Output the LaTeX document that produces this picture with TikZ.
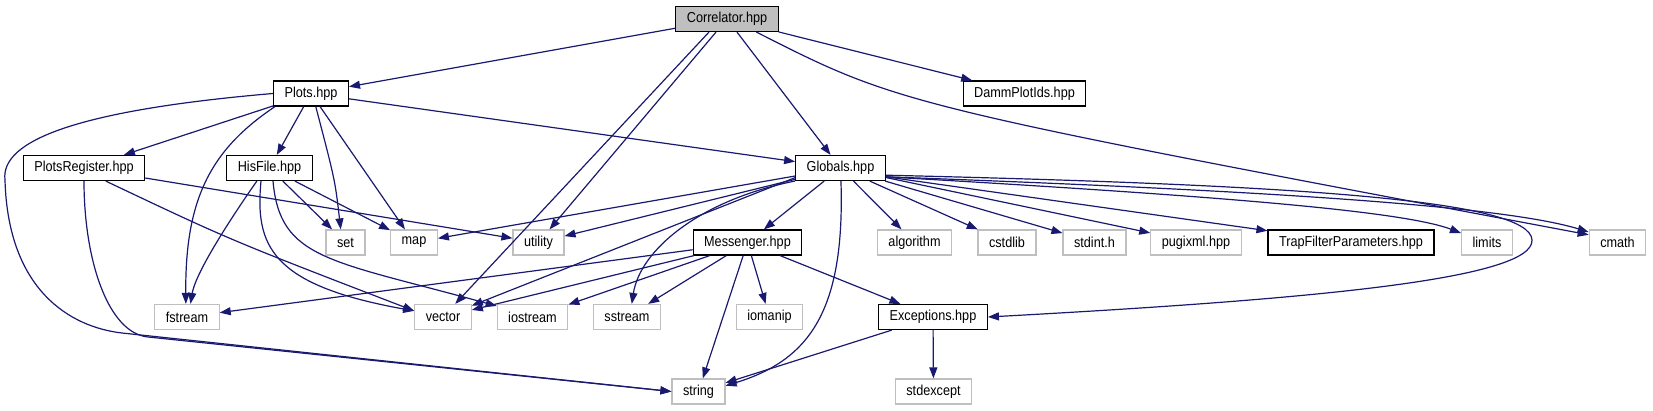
\documentclass[tikz,border=0pt]{standalone}
\usepackage{fontspec}
\setmainfont{Liberation Sans}[FakeStretch=0.88]
\usetikzlibrary{arrows.meta}

\definecolor{edgeblue}{RGB}{25,25,112}
\definecolor{sysgray}{RGB}{191,191,191}

\begin{document}
\begin{tikzpicture}[
    x=0.5pt, y=-0.5pt,
    every node/.style={
        draw,
        fill=white,
        line width=0.6pt,
        font=\fontsize{7.2pt}{8pt}\selectfont,
        inner xsep=5.5pt,
        inner ysep=0pt,
        minimum height=12.5pt
    },
    local/.style={draw=black},
    sys/.style={draw=sysgray},
    main/.style={draw=black, fill=sysgray},
    arrow/.style={-{Triangle[length=5.5pt,width=4pt]}, draw=edgeblue, line width=0.6pt}
]

\useasboundingbox (0,0) rectangle (1653,411);

\node (correlator) [main] at (727,19) {Correlator.hpp};

\node (plots) [local] at (311,93.5) {Plots.hpp};
\node (damm) [local] at (1024.5,93.5) {DammPlotIds.hpp};

\node (plotsreg) [local] at (84,168) {PlotsRegister.hpp};
\node (hisfile) [local] at (269.5,168) {HisFile.hpp};
\node (globals) [local] at (840.5,168) {Globals.hpp};

\node (set) [sys] at (345.5,242.5) {set};
\node (map) [sys] at (414,242.5) {map};
\node (utility) [sys] at (538.5,242.5) {utility};
\node (messenger) [local] at (747.5,242.5) {Messenger.hpp};
\node (algorithm) [sys] at (914.5,242.5) {algorithm};
\node (cstdlib) [sys] at (1007,242.5) {cstdlib};
\node (stdint) [sys] at (1094.5,242.5) {stdint.h};
\node (pugixml) [sys] at (1196,242.5) {pugixml.hpp};
\node (trapfilter) [local] at (1351,242.5) {TrapFilterParameters.hpp};
\node (limits) [sys] at (1487,242.5) {limits};
\node (cmath) [sys] at (1617.5,242.5) {cmath};

\node (fstream) [sys] at (187,317) {fstream};
\node (vector) [sys] at (443,317) {vector};
\node (iostream) [sys] at (532.5,317) {iostream};
\node (sstream) [sys] at (627,317) {sstream};
\node (iomanip) [sys] at (769.5,317) {iomanip};
\node (exceptions) [local] at (933,317) {Exceptions.hpp};

\node (string) [sys] at (698.5,391.5) {string};
\node (stdexcept) [sys] at (933.5,391.5) {stdexcept};

% Correlator.hpp
\draw [arrow] (correlator) -- (plots);
\draw [arrow] (correlator) -- (damm);
\draw [arrow] (correlator) -- (globals);
\draw [arrow] (correlator.-144) -- (vector);
\draw [arrow] (correlator.-130) -- (utility);
\draw [arrow] (correlator.-24) .. controls (900,105) .. (cmath.165);

% Plots.hpp
\draw [arrow] (plots) -- (plotsreg);
\draw [arrow] (plots) -- (hisfile);
\draw [arrow] (plots) -- (globals);
\draw [arrow] (plots.-70) .. controls (335,180) .. (set.110);
\draw [arrow] (plots) -- (map);
\draw [arrow] (plots.200) .. controls (210,150) and (185,200) .. (fstream.95);
\draw [arrow] (plots.west) .. controls (80,110) and (0,140) .. (5,180)
    .. controls (8,290) and (70,327) .. (122,333) -- (string.west);

% PlotsRegister.hpp
\draw [arrow] (plotsreg) -- (utility);
\draw [arrow] (plotsreg.-31) .. controls (230,240) .. (vector.168);
\draw [arrow] (plotsreg.south) .. controls (84,260) and (108,333) .. (148,337) -- (string.west);

% HisFile.hpp
\draw [arrow] (hisfile.-134) .. controls (240,205) and (196,270) .. (fstream.75);
\draw [arrow] (hisfile.-123) .. controls (255,245) and (270,285) .. (vector.168);
\draw [arrow] (hisfile.-75) .. controls (280,260) and (330,260) .. (iostream.163);
\draw [arrow] (hisfile) -- (set);
\draw [arrow] (hisfile) -- (map);

% Globals.hpp
\draw [arrow] (globals.190) -- (map);
\draw [arrow] (globals.194) -- (utility);
\draw [arrow] (globals.192) -- (vector);
\draw [arrow] (globals.196) .. controls (700,200) and (640,250) .. (sstream.70);
\draw [arrow] (globals) -- (messenger);
\draw [arrow] (globals.-88) .. controls (845,310) and (810,360) .. (string.12);
\draw [arrow] (globals) -- (algorithm);
\draw [arrow] (globals) -- (cstdlib);
\draw [arrow] (globals) -- (stdint);
\draw [arrow] (globals) -- (pugixml);
\draw [arrow] (globals.-11) -- (trapfilter);
\draw [arrow] (globals.-11) .. controls (1200,195) and (1400,210) .. (limits.160);
\draw [arrow] (globals.-11) .. controls (1250,190) and (1500,205) .. (cmath.160);
\draw [arrow] (globals.-9) .. controls (1300,185) and (1530,200) .. (1532,240)
    .. controls (1534,280) and (1300,300) .. (exceptions.east);

% Messenger.hpp
\draw [arrow] (messenger) -- (fstream);
\draw [arrow] (messenger) -- (vector);
\draw [arrow] (messenger) -- (iostream);
\draw [arrow] (messenger) -- (sstream);
\draw [arrow] (messenger) -- (iomanip);
\draw [arrow] (messenger) -- (string);
\draw [arrow] (messenger) -- (exceptions);

% Exceptions.hpp
\draw [arrow] (exceptions) -- (string);
\draw [arrow] (exceptions) -- (stdexcept);

\end{tikzpicture}
\end{document}
